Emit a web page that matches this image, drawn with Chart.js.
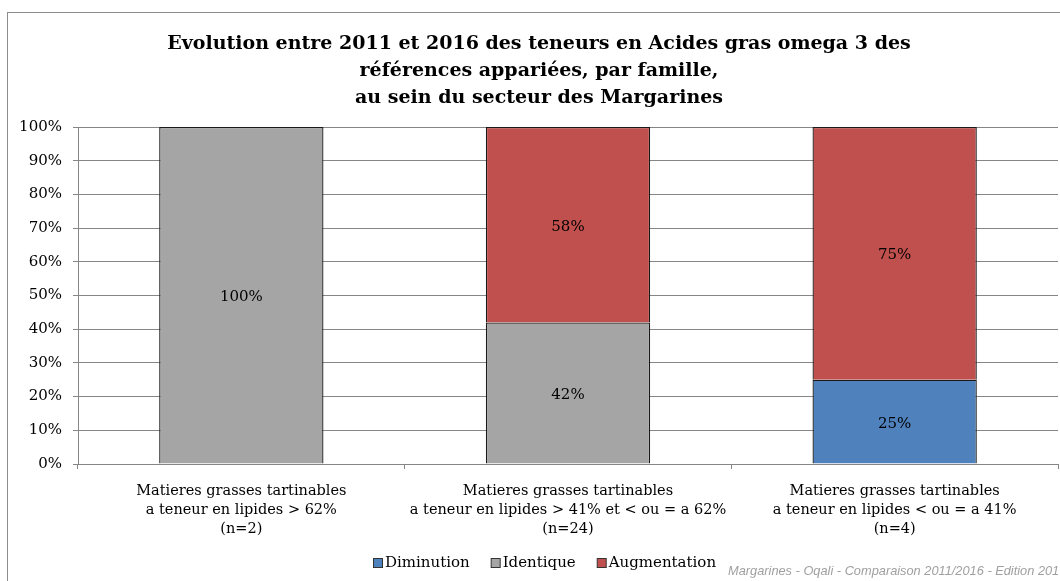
<!DOCTYPE html>
<html><head><meta charset="utf-8">
<script src="https://cdn.jsdelivr.net/npm/chart.js@4/dist/chart.umd.min.js"></script>
<style>
html,body{margin:0;padding:0;background:#fff;overflow:hidden;width:1060px;height:581px}
#wrap{position:absolute;left:0;top:0;width:1078px;height:581px}
</style></head><body>
<div id="wrap"><canvas id="c" width="1078" height="581"></canvas></div>
<script>
const titleLines = ["Evolution entre 2011 et 2016 des teneurs en Acides gras omega 3 des", "références appariées, par famille,", "au sein du secteur des Margarines"];
const categories = [
  ["Matieres grasses tartinables", "a teneur en lipides > 62%", "(n=2)"],
  ["Matieres grasses tartinables", "a teneur en lipides > 41% et < ou = a 62%", "(n=24)"],
  ["Matieres grasses tartinables", "a teneur en lipides < ou = a 41%", "(n=4)"]
];
const seriesNames = ["Diminution", "Identique", "Augmentation"];
const diminution = [0, 0, 25];
const identique = [100, 42, 0];
const augmentation = [0, 58, 75];
const colors = ["#4F81BD", "#A5A5A5", "#C0504D"];
const footnote = "Margarines - Oqali - Comparaison 2011/2016 - Edition 2017";

const SERIF = "'DejaVu Serif', 'Liberation Serif', serif";

const framePlugin = {
  id: 'frame',
  beforeDraw(chart) {
    const ctx = chart.ctx;
    ctx.save();
    ctx.fillStyle = '#fff';
    ctx.fillRect(0, 0, chart.width, chart.height);
    ctx.strokeStyle = '#8c8c8c';
    ctx.lineWidth = 1;
    ctx.strokeRect(7.5, 12.5, 1064, 600);
    ctx.fillStyle = '#000';
    ctx.font = "bold 19px " + SERIF;
    ctx.textAlign = 'center';
    ctx.textBaseline = 'middle';
    titleLines.forEach((t, i) => ctx.fillText(t, 539, 44 + i * 27));
    ctx.restore();
  },
  afterDraw(chart) {
    const ctx = chart.ctx;
    ctx.save();
    ctx.font = "15px " + SERIF;
    ctx.fillStyle = '#000';
    ctx.textAlign = 'center';
    ctx.textBaseline = 'middle';
    chart.data.datasets.forEach((ds, di) => {
      const meta = chart.getDatasetMeta(di);
      meta.data.forEach((el, i) => {
        const v = ds.data[i];
        if (!v) return;
        ctx.fillText(v + '%', el.x, (el.y + el.base) / 2 + 2);
      });
    });
    // legend
    ctx.font = "15px " + SERIF;
    ctx.textAlign = 'left';
    const box = 9, gapBox = 3, gapItem = 21;
    const widths = chart.data.datasets.map(ds => box + gapBox + ctx.measureText(ds.label).width);
    const total = widths.reduce((a, b) => a + b, 0) + gapItem * (widths.length - 1);
    let x = Math.round(545 - total / 2);
    const y = 563;
    chart.data.datasets.forEach((ds, di) => {
      ctx.fillStyle = ds.backgroundColor;
      ctx.fillRect(x + 0.5, y - 4.5, box, box);
      ctx.strokeStyle = '#333';
      ctx.lineWidth = 1;
      ctx.strokeRect(x + 0.5, y - 4.5, box, box);
      ctx.fillStyle = '#000';
      ctx.fillText(ds.label, x + box + gapBox, y);
      x += widths[di] + gapItem;
    });
    ctx.font = "italic 12.8px 'Liberation Sans Narrow', 'Liberation Sans', sans-serif";
    ctx.fillStyle = '#a0a0a0';
    ctx.textBaseline = 'alphabetic';
    ctx.fillText(footnote, 728, 575);
    ctx.restore();
  }
};

new Chart(document.getElementById('c'), {
  type: 'bar',
  data: {
    labels: categories,
    datasets: [
      { label: seriesNames[0], data: diminution, backgroundColor: colors[0] },
      { label: seriesNames[1], data: identique, backgroundColor: colors[1] },
      { label: seriesNames[2], data: augmentation, backgroundColor: colors[2] }
    ].map(d => Object.assign(d, { borderColor: '#1a1a1a', borderWidth: 1.3, categoryPercentage: 0.503, barPercentage: 1 }))
  },
  options: {
    responsive: false,
    animation: false,
    devicePixelRatio: 1,
    layout: { padding: { top: 127, right: 20, left: 0, bottom: 0 } },
    plugins: { legend: { display: false }, title: { display: false }, tooltip: { enabled: false } },
    scales: {
      x: {
        stacked: true,
        grid: { display: true, drawOnChartArea: false, drawTicks: true, tickLength: 5, color: '#868686', offset: true },
        border: { color: '#868686' },
        ticks: { color: '#000', font: { family: SERIF, size: 14.5, lineHeight: 1.31 }, padding: 13, maxRotation: 0, autoSkip: false },
        afterFit(s) { s.height = 117; }
      },
      y: {
        stacked: true,
        min: 0, max: 100,
        grid: { color: '#868686', tickLength: 5 },
        border: { color: '#868686' },
        ticks: { stepSize: 10, color: '#000', font: { family: SERIF, size: 15 }, padding: 11, callback: v => v + '%' },
        afterFit(s) { s.width = 78; }
      }
    }
  },
  plugins: [framePlugin]
});
</script>
</body></html>
